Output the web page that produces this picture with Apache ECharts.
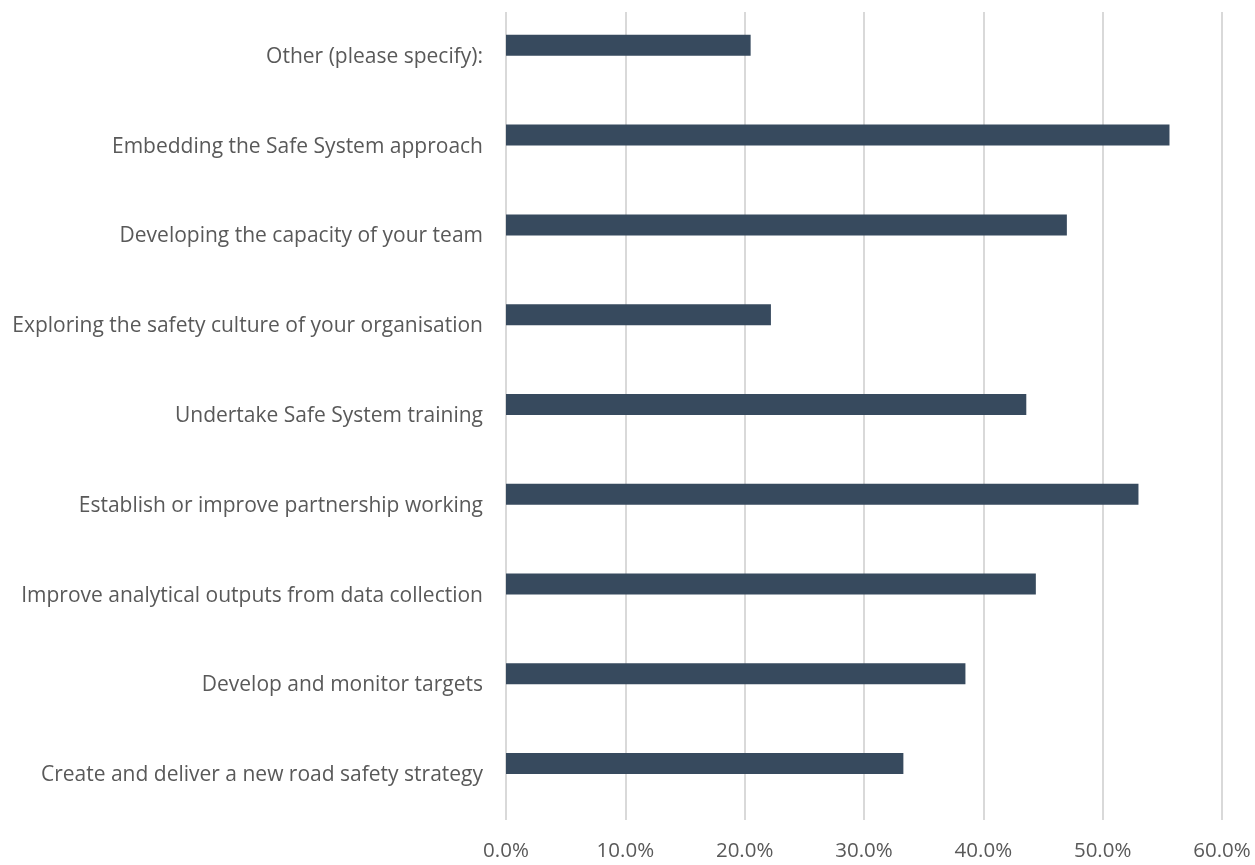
<!DOCTYPE html>
<html>
<head>
<meta charset="utf-8">
<script src="https://cdn.jsdelivr.net/npm/echarts@6/dist/echarts.min.js"></script>
<style>html,body{margin:0;padding:0;background:#fff}#c{width:1255px;height:865px}</style>
</head>
<body>
<div id="c"></div>
<script>
const categories = [
  "Create and deliver a new road safety strategy",
  "Develop and monitor targets",
  "Improve analytical outputs from data collection",
  "Establish or improve partnership working",
  "Undertake Safe System training",
  "Exploring the safety culture of your organisation",
  "Developing the capacity of your team",
  "Embedding the Safe System approach",
  "Other (please specify):"
];
const values = [33.3, 38.5, 44.4, 53.0, 43.6, 22.2, 47.0, 55.6, 20.5];
const emptySeries = [];
const xTicks = { min: 0, max: 60, interval: 10 };

const chart = echarts.init(document.getElementById('c'), null, {renderer: 'canvas'});
const font = '"Open Sans", "Liberation Sans", sans-serif';
chart.setOption({
  animation: false,
  backgroundColor: '#ffffff',
  grid: { left: 506, right: 33, top: 12, bottom: 45, containLabel: false },
  xAxis: {
    type: 'value', min: xTicks.min, max: xTicks.max, interval: xTicks.interval,
    axisLine: { show: false }, axisTick: { show: false },
    splitLine: { show: true, lineStyle: { color: '#d9d9d9', width: 2 } },
    axisLabel: { color: '#595959', fontSize: 20.5, fontFamily: font, margin: 21,
      formatter: v => v.toFixed(1) + '%' }
  },
  yAxis: {
    type: 'category', data: categories,
    axisLine: { show: false }, axisTick: { show: false },
    axisLabel: { color: '#595959', fontSize: 21, fontFamily: font, margin: 23 }
  },
  series: [
    { type: 'bar', data: values, barWidth: 21, barGap: '10%',
      itemStyle: { color: '#374a5e' } },
    { type: 'bar', data: emptySeries, barWidth: 21, barGap: '10%' }
  ]
});
</script>
</body>
</html>
